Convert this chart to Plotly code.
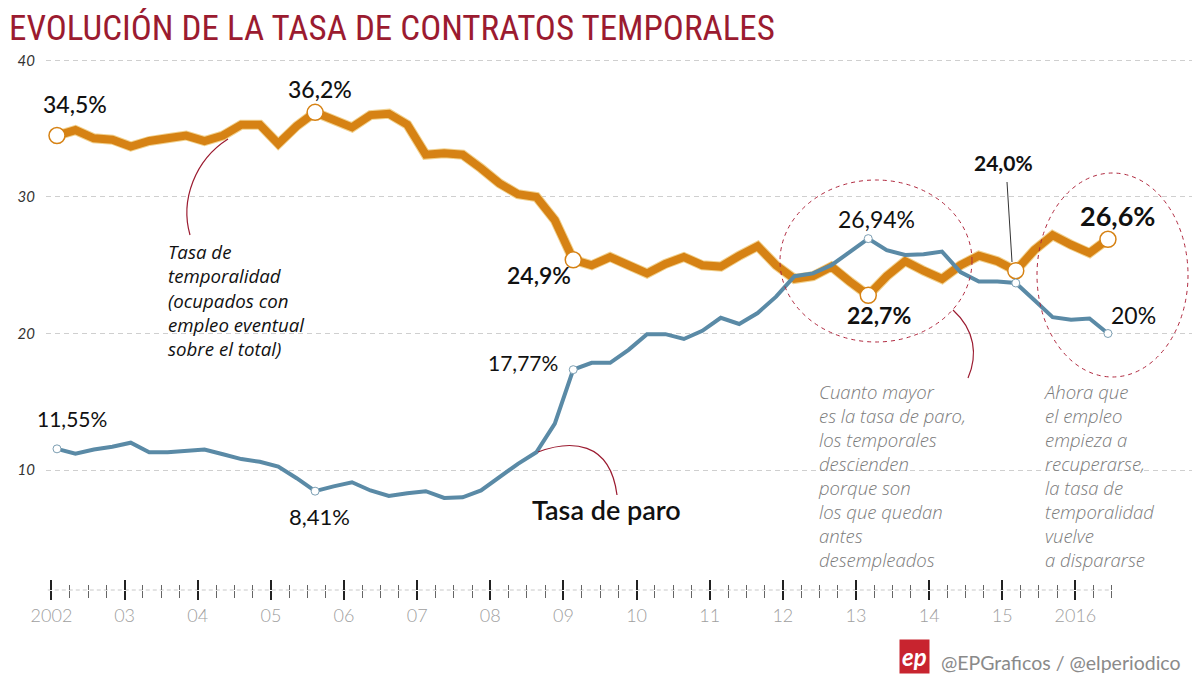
import plotly.graph_objects as go

# ---------------- data ----------------
years = list(range(2002, 2017))
year_labels = ["2002", "03", "04", "05", "06", "07", "08", "09", "10", "11", "12", "13", "14", "15", "2016"]

# quarterly series 2002T1 .. 2016T2 (58 quarters)
quarters = [f"{y}T{q}" for y in years for q in range(1, 5)][:58]

temporalidad = [34.5, 34.9, 34.3, 34.2, 33.7, 34.1, 34.3, 34.5, 34.1, 34.5,
                35.3, 35.3, 33.9, 35.2, 36.2, 35.7, 35.1, 36.0, 36.1, 35.3,
                33.1, 33.2, 33.1, 32.1, 31.0, 30.2, 30.0, 28.3, 25.4, 25.0,
                25.6, 25.0, 24.4, 25.1, 25.6, 25.0, 24.9, 25.7, 26.4, 25.0,
                24.0, 24.2, 24.9, 23.8, 22.8, 24.2, 25.3, 24.6, 24.0, 25.0,
                25.7, 25.3, 24.6, 26.1, 27.2, 26.5, 25.9, 26.9]

paro = [11.55, 11.2, 11.5, 11.7, 12.0, 11.3, 11.3, 11.4, 11.5, 11.15,
        10.8, 10.6, 10.25, 9.4, 8.45, 8.8, 9.1, 8.5, 8.1, 8.3,
        8.45, 7.95, 8.0, 8.5, 9.5, 10.45, 11.3, 13.4, 17.35, 17.85,
        17.85, 18.8, 19.95, 19.95, 19.6, 20.2, 21.15, 20.7, 21.5, 22.7,
        24.2, 24.4, 25.0, 26.0, 26.95, 26.1, 25.75, 25.8, 26.0, 24.5,
        23.8, 23.8, 23.7, 22.45, 21.2, 21.0, 21.1, 20.0]

highlight_idx = [0, 14, 28, 44, 52, 57]

y_ticks = [10, 20, 30, 40]

note_temporalidad = ["Tasa de", "temporalidad", "(ocupados con", "empleo eventual", "sobre el total)"]
note_paro = ["Cuanto mayor", "es la tasa de paro,", "los temporales", "descienden",
             "porque son", "los que quedan", "antes", "desempleados"]
note_empleo = ["Ahora que", "el empleo", "empieza a", "recuperarse,", "la tasa de",
               "temporalidad", "vuelve", "a dispararse"]

# ---------------- geometry helpers (styling only) ----------------
# the page body has an 8px margin: the figure is shrunk by it so that
# page coordinates below are what ends up on screen
OFF = 8
W, H = 1200 - OFF, 675 - OFF
PL, PR, PT, PB = 46, 1200, 40, 590          # plot area in page pixels
L, T = PL - OFF, PT - OFF
R = 0
B = H - (PB - OFF)


def px(x):
    return (x - PL) / (PR - PL)


def py(y):
    return (PB - y) / (PB - PT)


x_vals = [int(q[:4]) + (int(q[-1]) - 1) / 4 for q in quarters]
X0, X1 = 2001.851, 2017.498
Y0, Y1 = 1.21, 41.5

# tick positions (slightly offset from data grid, as in the original)
major_ticks = [y - 0.075 - 0.0083 * (y - 2002) for y in years]
step = major_ticks[1] - major_ticks[0]
minor_ticks = []
for m in major_ticks[:-1]:
    minor_ticks += [m + k * step / 4 for k in (1, 2, 3)]
minor_ticks += [major_ticks[-1] + k * step / 4 for k in (1, 2)]

ORANGE = "#d68214"
BLUE = "#5a8aa6"
RED = "#9b1b30"
FONT = "Lato, 'Open Sans', sans-serif"
FONT2 = "'Open Sans', Lato, sans-serif"

fig = go.Figure()

fig.add_trace(go.Scatter(
    x=x_vals, y=paro, mode="lines", xaxis="x2", yaxis="y",
    line=dict(color=BLUE, width=4), hoverinfo="skip", showlegend=False))
fig.add_trace(go.Scatter(
    x=[x_vals[i] for i in highlight_idx], y=[paro[i] for i in highlight_idx],
    mode="markers", xaxis="x2", yaxis="y",
    marker=dict(size=8, color="white", line=dict(color="#7d9fb3", width=1)),
    hoverinfo="skip", showlegend=False))

fig.add_trace(go.Scatter(
    x=x_vals, y=temporalidad, mode="lines",
    line=dict(color="#f1d18f", width=10), hoverinfo="skip", showlegend=False))
fig.add_trace(go.Scatter(
    x=x_vals, y=temporalidad, mode="lines",
    line=dict(color=ORANGE, width=8), hoverinfo="skip", showlegend=False))
fig.add_trace(go.Scatter(
    x=[x_vals[i] for i in highlight_idx], y=[temporalidad[i] for i in highlight_idx],
    mode="markers",
    marker=dict(size=16, color="white", line=dict(color=ORANGE, width=1.5)),
    hoverinfo="skip", showlegend=False))

annotations = []


def txt(text, x, y, size, color="#111", weight=400, style="normal",
        xanchor="center", yanchor="middle", align="center", family=FONT):
    annotations.append(dict(
        text=text, x=px(x), y=py(y), xref="paper", yref="paper",
        xanchor=xanchor, yanchor=yanchor, align=align, showarrow=False,
        font=dict(family=family, size=size, color=color, weight=weight, style=style)))


# title
txt("EVOLUCIÓN DE LA TASA DE CONTRATOS TEMPORALES", 7, 28, 35, color=RED,
    xanchor="left", family="'Liberation Sans Narrow', 'Roboto Condensed', 'DejaVu Sans Condensed', sans-serif")

# value labels temporalidad
txt("34,5%", 75, 104, 23, weight=500)
txt("36,2%", 320, 89, 23, weight=500)
txt("24,9%", 539, 275, 23, weight=600)
txt("22,7%", 879, 315, 23, weight=700)
txt("24,0%", 1003, 162, 21, weight=700)
txt("26,6%", 1117, 215, 27, weight=700)

# value labels paro
txt("11,55%", 72, 418, 21, weight=400)
txt("8,41%", 319, 516, 22, weight=400)
txt("17,77%", 523, 362, 21, weight=400)
txt("26,94%", 876, 219, 23, weight=400)
txt("20%", 1133, 315, 23, weight=400)

txt("Tasa de paro", 606, 509, 27, weight=600)

# explanatory notes (line spacing = 1.3 * font size)
txt("<br>".join(note_temporalidad), 166, 300, 18.7, weight=500, style="italic",
    color="#111", family=FONT2, xanchor="left", align="left")
txt("<br>".join(note_paro), 816, 475, 18.5, weight=300, style="italic",
    color="#7a7a7a", family=FONT2, xanchor="left", align="left")
txt("<br>".join(note_empleo), 1042, 475, 18.5, weight=300, style="italic",
    color="#7a7a7a", family=FONT2, xanchor="left", align="left")

# footer
annotations.append(dict(
    text="<b><i>ep</i></b>", x=px(914), y=py(656), xref="paper", yref="paper",
    xanchor="center", yanchor="middle",
    showarrow=False, bgcolor="#c8242f", borderpad=2,
    font=dict(family=FONT, size=24, color="white")))
txt("@EPGraficos / @elperiodico", 939, 662, 19.5, color="#8a8a8a", weight=400,
    xanchor="left")

shapes = []


def path(d_pts, color=RED, width=1.2, dash="solid"):
    (x0, y0), (c1x, c1y), (c2x, c2y), (x1, y1) = d_pts
    d = (f"M {px(x0)},{py(y0)} C {px(c1x)},{py(c1y)} {px(c2x)},{py(c2y)} "
         f"{px(x1)},{py(y1)}")
    shapes.append(dict(type="path", path=d, xref="paper", yref="paper",
                       line=dict(color=color, width=width, dash=dash)))


# leader curves
path([(228, 139), (195, 160), (180, 200), (190, 235)])
path([(538, 452), (570, 440), (610, 440), (617, 495)])
path([(953, 310), (975, 330), (978, 355), (968, 378)])
shapes.append(dict(type="line", xref="paper", yref="paper",
                   x0=px(1007), y0=py(182), x1=px(1012), y1=py(262),
                   line=dict(color="#333", width=1)))

# dashed ellipses
for (a, b, c, d) in [(780, 180, 972, 342), (1037, 173, 1188, 377)]:
    shapes.append(dict(type="circle", xref="paper", yref="paper",
                       x0=px(a), x1=px(c), y0=py(b), y1=py(d),
                       line=dict(color="#b0283e", width=1, dash="4px,4px")))

# x axis baseline (dashed light line)
shapes.append(dict(type="line", xref="x", yref="paper",
                   x0=major_ticks[0] - 0.05, x1=minor_ticks[-1], y0=0, y1=0,
                   line=dict(color="#c8c8c8", width=1, dash="4px,3px"), layer="below"))

fig.update_layout(
    width=W, height=H, autosize=False,
    margin=dict(l=L, r=R, t=T, b=B),
    paper_bgcolor="white", plot_bgcolor="white",
    showlegend=False,
    annotations=annotations, shapes=shapes,
    xaxis=dict(range=[X0, X1], tickmode="array", tickvals=major_ticks,
               ticktext=year_labels, ticks="outside", ticklen=9, tickwidth=2,
               tickcolor="#222", showgrid=False, zeroline=False, showline=False,
               tickfont=dict(family=FONT, size=18, color="#a0a0a0", weight=300),
               minor=dict(tickmode="array", tickvals=minor_ticks, ticks="outside",
                          ticklen=7, tickwidth=1, tickcolor="#666", showgrid=False)),
    xaxis2=dict(range=[X0, X1], overlaying="x", anchor="y", side="bottom",
                tickmode="array", tickvals=major_ticks, ticks="inside", ticklen=10,
                tickwidth=2, tickcolor="#222", showticklabels=False,
                showgrid=False, zeroline=False, showline=False,
                minor=dict(tickmode="array", tickvals=minor_ticks, ticks="inside",
                           ticklen=5, tickwidth=1, tickcolor="#666", showgrid=False)),
    yaxis=dict(range=[Y0, Y1], tickmode="array", tickvals=y_ticks,
               showgrid=True, gridcolor="#cfcfcf", griddash="5px,4px", gridwidth=1,
               zeroline=False, showline=False, ticks="",
               ticklabelstandoff=10,
               tickfont=dict(family=FONT, size=15, color="#333", style="italic")),
)

fig.write_html("out.html")
